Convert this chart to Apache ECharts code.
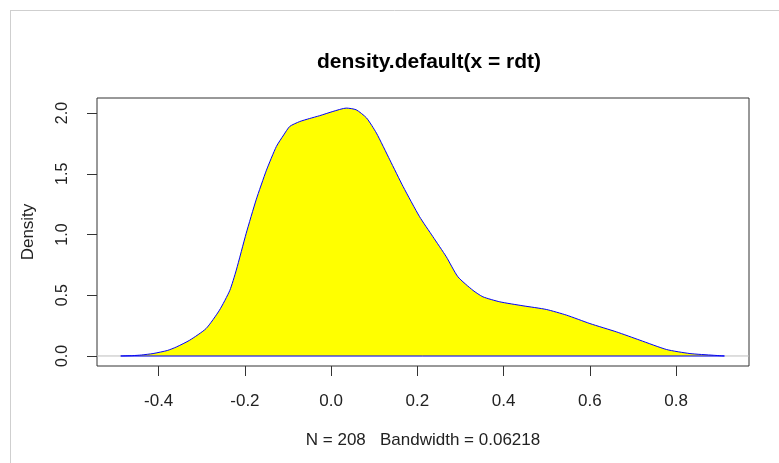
<!DOCTYPE html>
<html><head><meta charset="utf-8">
<script src="https://cdn.jsdelivr.net/npm/echarts@6/dist/echarts.min.js"></script>
<style>html,body{margin:0;padding:0;background:#fff}#c{width:779px;height:463px}</style>
</head><body><div id="c"></div>
<script>
const densX = [-0.488,-0.46,-0.44,-0.413,-0.38,-0.359,-0.328,-0.29,-0.259,-0.235,-0.22,-0.197,-0.174,-0.15,-0.127,-0.11,-0.096,-0.073,-0.05,-0.027,0.004,0.035,0.058,0.082,0.105,0.136,0.167,0.205,0.236,0.267,0.294,0.329,0.352,0.391,0.445,0.499,0.546,0.6,0.662,0.716,0.778,0.832,0.886,0.912];
const densY = [0.000,0.003,0.008,0.02,0.045,0.074,0.13,0.226,0.377,0.54,0.707,1.01,1.285,1.53,1.725,1.82,1.89,1.93,1.955,1.978,2.013,2.041,2.027,1.96,1.835,1.615,1.394,1.147,0.982,0.817,0.652,0.54,0.487,0.446,0.413,0.383,0.336,0.267,0.198,0.13,0.053,0.02,0.006,0.000];
const xTicks = [-0.4,-0.2,0.0,0.2,0.4,0.6,0.8];
const yTicks = [0.0,0.5,1.0,1.5,2.0];
const titleText = 'density.default(x = rdt)';
const xLabel = 'N = 208   Bandwidth = 0.06218';
const yLabel = 'Density';
const xRange = [-0.543, 0.969];
const yRange = [-0.0825, 2.124];

const curve = densX.map((x,i)=>[x,densY[i]]);
const chart = echarts.init(document.getElementById('c'), null, {renderer:'canvas'});
const font = 'Liberation Sans, Arial, sans-serif';
chart.setOption({
  animation:false,
  backgroundColor:'#fff',
  title:{text:titleText,left:424,top:47,textAlign:'center',
    textStyle:{fontFamily:font,fontSize:21,fontWeight:'bold',color:'#000'}},
  grid:{left:97,right:30,top:98,bottom:97,show:true,borderColor:'#333',borderWidth:1,backgroundColor:'transparent'},
  xAxis:{type:'value',min:xRange[0],max:xRange[1],
    axisLine:{show:false,onZero:false},splitLine:{show:false},
    axisTick:{show:true,inside:false,length:10,customValues:xTicks,lineStyle:{color:'#333'}},
    axisLabel:{customValues:xTicks,margin:27,fontFamily:font,fontSize:17,color:'#222',
      formatter:v=>v.toFixed(1)},
    name:xLabel,nameLocation:'middle',nameGap:66,
    nameTextStyle:{fontFamily:font,fontSize:17,color:'#222'}},
  yAxis:{type:'value',min:yRange[0],max:yRange[1],
    axisLine:{show:false,onZero:false},splitLine:{show:false},
    axisTick:{show:true,inside:false,length:10,customValues:yTicks,lineStyle:{color:'#333'}},
    axisLabel:{customValues:yTicks,rotate:90,margin:26,fontFamily:font,fontSize:16,color:'#222',
      formatter:v=>v.toFixed(1)},
    name:yLabel,nameLocation:'middle',nameGap:60,
    nameTextStyle:{fontFamily:font,fontSize:17,color:'#222'}},
  graphic:[
    {type:'line',shape:{x1:10.5,y1:10,x2:10.5,y2:463},style:{stroke:'#cfcfcf',lineWidth:1},z:100},
    {type:'line',shape:{x1:10,y1:10.5,x2:779,y2:10.5},style:{stroke:'#cfcfcf',lineWidth:1},z:100}
  ],
  series:[
    {type:'line',data:[[xRange[0],0],[xRange[1],0]],symbol:'none',silent:true,
      lineStyle:{color:'#bebebe',width:1},z:1},
    {type:'line',data:curve,symbol:'none',smooth:0.2,silent:true,
      lineStyle:{color:'#0000ff',width:1},
      areaStyle:{color:'#ffff00',opacity:1,origin:0},z:2},
    {type:'line',data:[[densX[0],0],[densX[densX.length-1],0]],symbol:'none',silent:true,
      lineStyle:{color:'#0000ff',width:1},z:3}
  ]
});
</script></body></html>
